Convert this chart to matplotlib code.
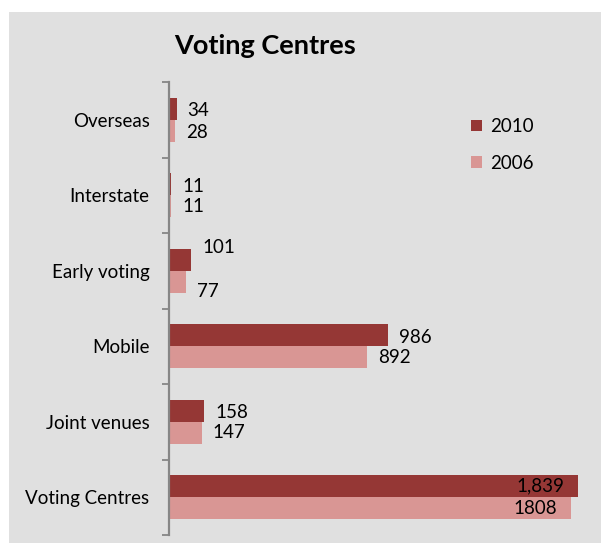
import numpy as np
import matplotlib
matplotlib.use("Agg")
import matplotlib.pyplot as plt
from matplotlib.patches import Rectangle

plt.rcParams['font.family'] = ['Lato', 'DejaVu Sans']

# categories from top to bottom
categories = ['Overseas', 'Interstate', 'Early voting', 'Mobile', 'Joint venues', 'Voting Centres']
values_2010 = [34, 11, 101, 986, 158, 1839]
values_2006 = [28, 11, 77, 892, 147, 1808]
labels_2010 = ['34', '11', '101', '986', '158', '1,839']
labels_2006 = ['28', '11', '77', '892', '147', '1808']
series_names = ['2010', '2006']

c2010 = '#953735'
c2006 = '#D99694'
bg = '#E0E0E0'

W, H = 601, 543
fig = plt.figure(figsize=(W / 100, H / 100), dpi=100, facecolor='white')
# grey chart area
fig.patches.append(Rectangle((9 / W, 0), 1 - 9 / W, (H - 12) / H, transform=fig.transFigure,
                             facecolor=bg, edgecolor='none', zorder=-5))

ax = fig.add_axes([169 / W, (H - 535) / H, (587 - 169) / W, (535 - 82) / H])
ax.set_facecolor('none')

y = np.arange(len(categories))
bh = 0.29
b1 = ax.barh(y - bh / 2, values_2010, height=bh, color=c2010, label=series_names[0])
b2 = ax.barh(y + bh / 2, values_2006, height=bh, color=c2006, label=series_names[1])

ax.set_xlim(0, 1880)
ax.set_ylim(len(categories) - 0.5, -0.5)

# value labels (offsets in points)
fs = 13.5
dy_2010 = {2: 9}
dy_2006 = {0: -1.5, 2: -7}
for i, (v, t) in enumerate(zip(values_2010, labels_2010)):
    if i == len(categories) - 1:
        ax.annotate(t, (v, y[i] - bh / 2), xytext=(-10, 0), textcoords='offset points',
                    ha='right', va='center', fontsize=fs)
    else:
        ax.annotate(t, (v, y[i] - bh / 2), xytext=(8, dy_2010.get(i, -1.5)), textcoords='offset points',
                    ha='left', va='center', fontsize=fs)
for i, (v, t) in enumerate(zip(values_2006, labels_2006)):
    if i == len(categories) - 1:
        ax.annotate(t, (v, y[i] + bh / 2), xytext=(-10, 0), textcoords='offset points',
                    ha='right', va='center', fontsize=fs)
    else:
        ax.annotate(t, (v, y[i] + bh / 2), xytext=(8, dy_2006.get(i, 0)), textcoords='offset points',
                    ha='left', va='center', fontsize=fs)

# axes styling: only the category axis line is shown
for s in ['top', 'right', 'bottom']:
    ax.spines[s].set_visible(False)
ax.spines['left'].set_color('#868686')
ax.spines['left'].set_linewidth(1.6)
ax.set_xticks([])
ax.set_yticks(y)
ax.set_yticklabels(categories, fontsize=fs)
ax.tick_params(axis='y', which='major', length=0, pad=14)
ax.set_yticks(np.arange(-0.5, len(categories)), minor=True)
ax.tick_params(axis='y', which='minor', length=5, width=1.3, color='#868686')

fig.text(265 / W, 1 - 46 / H, 'Voting Centres', fontsize=19.5, fontweight='bold',
         ha='center', va='center')

leg = ax.legend(loc='upper left', bbox_to_anchor=(471 / W, 1 - 118 / H), bbox_transform=fig.transFigure,
                frameon=False, fontsize=fs, handlelength=0.58, handleheight=0.58,
                handletextpad=0.42, labelspacing=1.06, borderpad=0, borderaxespad=0)

fig.savefig('out.png', dpi=100, facecolor='white')
